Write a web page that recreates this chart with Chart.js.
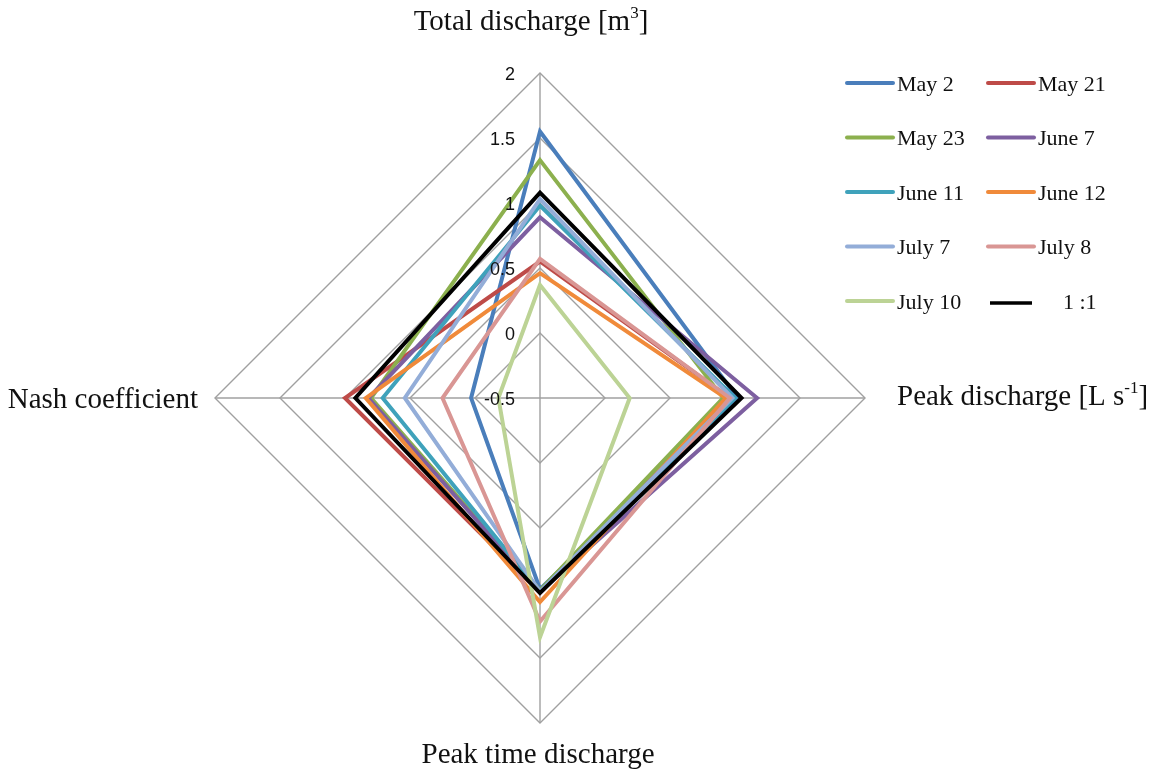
<!DOCTYPE html>
<html lang="en">
<head>
  <meta charset="UTF-8">
  <title>Discharge radar</title>
  <script src="https://cdn.jsdelivr.net/npm/chart.js"></script>
  <style>
    body { margin: 0; background: #fff; }
    #wrap { position: relative; width: 1158px; height: 769px; }
  </style>
</head>
<body>
  <div id="wrap">
    <canvas id="radar" width="1158" height="769"></canvas>
  </div>

  <script>
    // axes, clockwise from the top
    const axes = ["Total discharge", "Peak discharge", "Peak time discharge", "Nash coefficient"];
    const series = ["May 2", "May 21", "May 23", "June 7", "June 11", "June 12", "July 7", "July 8", "July 10", "1 :1"];
    const colors = ["#4a7ebb", "#be4b48", "#8cb04e", "#7d5fa0", "#3fa2bb", "#f08a3a", "#93add8", "#d99694", "#bcd395", "#000000"];

    // one value per series, in the same order as `series`
    const totalDischarge = [1.55, 0.55, 1.33, 0.89, 0.98, 0.46, 1.03, 0.57, 0.37, 1.08];
    const peakDischarge  = [1.02, 0.96, 0.91, 1.17, 1.00, 0.93, 0.98, 0.96, 0.19, 1.05];
    const peakTime       = [0.97, 1.00, 0.98, 0.99, 0.99, 1.07, 0.99, 1.22, 1.34, 1.00];
    const nashCoef       = [0.03, 1.00, 0.80, 0.82, 0.71, 0.84, 0.54, 0.25, -0.18, 0.92];

    const tickValues = [-0.5, 0, 0.5, 1, 1.5, 2];

    const datasets = series.map((name, i) => ({
      label: name,
      data: [totalDischarge[i], peakDischarge[i], peakTime[i], nashCoef[i]],
      borderColor: colors[i],
      backgroundColor: "transparent",
      borderWidth: 4,
      borderJoinStyle: "miter",
      pointRadius: 0,
      fill: false,
      order: series.length - i   // later series on top, like the original
    }));

    // axis titles with superscripts
    const axisTitles = [
      [{ t: "Total discharge [m" }, { t: "3", sup: true }, { t: "]" }],
      [{ t: "Peak discharge [L s" }, { t: "-1", sup: true }, { t: "]" }],
      [{ t: "Peak time discharge" }],
      [{ t: "Nash coefficient" }]
    ];

    function richWidth(ctx, parts) {
      let w = 0;
      parts.forEach(p => {
        ctx.font = p.sup ? "17px 'Liberation Serif'" : "29px 'Liberation Serif'";
        w += ctx.measureText(p.t).width;
      });
      return w;
    }

    function drawRich(ctx, parts, x, y) {
      ctx.textAlign = "left";
      ctx.textBaseline = "alphabetic";
      parts.forEach(p => {
        ctx.font = p.sup ? "17px 'Liberation Serif'" : "29px 'Liberation Serif'";
        ctx.fillText(p.t, x, p.sup ? y - 12 : y);
        x += ctx.measureText(p.t).width;
      });
    }

    const labelsPlugin = {
      id: "labels",
      afterDraw(chart) {
        const ctx = chart.ctx;
        const r = chart.scales.r;
        ctx.save();
        ctx.fillStyle = "#111";

        // tick labels beside the top spoke
        ctx.font = "18px 'Liberation Sans'";
        ctx.textAlign = "right";
        ctx.textBaseline = "middle";
        tickValues.forEach(v => {
          const p = r.getPointPositionForValue(0, v);
          ctx.fillText(String(v), p.x - 25, p.y + 2);
        });

        // axis titles
        const top = r.getPointPositionForValue(0, 2);
        const right = r.getPointPositionForValue(1, 2);
        const bottom = r.getPointPositionForValue(2, 2);
        const left = r.getPointPositionForValue(3, 2);
        let w = richWidth(ctx, axisTitles[0]);
        drawRich(ctx, axisTitles[0], top.x - 9 - w / 2, top.y - 43);
        drawRich(ctx, axisTitles[1], right.x + 32, right.y + 7);
        w = richWidth(ctx, axisTitles[2]);
        drawRich(ctx, axisTitles[2], bottom.x - 2 - w / 2, bottom.y + 40);
        w = richWidth(ctx, axisTitles[3]);
        drawRich(ctx, axisTitles[3], left.x - 17 - w, left.y + 10);

        // legend, two columns
        ctx.font = "22px 'Liberation Serif'";
        ctx.textBaseline = "middle";
        ctx.textAlign = "left";
        ctx.lineCap = "round";
        series.forEach((name, i) => {
          const col = i % 2, row = Math.floor(i / 2);
          const y = 83 + row * 54.5;
          const x0 = col === 0 ? 847 : 988;
          const last = i === series.length - 1;
          ctx.strokeStyle = colors[i];
          ctx.lineWidth = last ? 3.5 : 4;
          ctx.lineCap = last ? "butt" : "round";
          ctx.beginPath();
          ctx.moveTo(x0 + (last ? 2 : 0), y + (last ? 2 : 0));
          ctx.lineTo(x0 + (last ? 44 : 46), y + (last ? 2 : 0));
          ctx.stroke();
          ctx.fillStyle = "#111";
          ctx.fillText(name, last ? 1063 : x0 + 50, y + 2);
        });
        ctx.restore();
      }
    };

    new Chart(document.getElementById("radar"), {
      type: "radar",
      data: { labels: axes, datasets: datasets },
      options: {
        responsive: false,
        animation: false,
        devicePixelRatio: 1,
        layout: { padding: { left: 215, top: 73, right: 293, bottom: 46 } },
        elements: { line: { tension: 0 } },
        plugins: { legend: { display: false }, tooltip: { enabled: false } },
        scales: {
          r: {
            min: -0.5,
            max: 2,
            ticks: { display: false, stepSize: 0.5 },
            grid: { color: "#a0a0a0", lineWidth: 1.4 },
            angleLines: { color: "#a0a0a0", lineWidth: 1.4 },
            pointLabels: { display: false }
          }
        }
      },
      plugins: [labelsPlugin]
    });
  </script>
</body>
</html>
